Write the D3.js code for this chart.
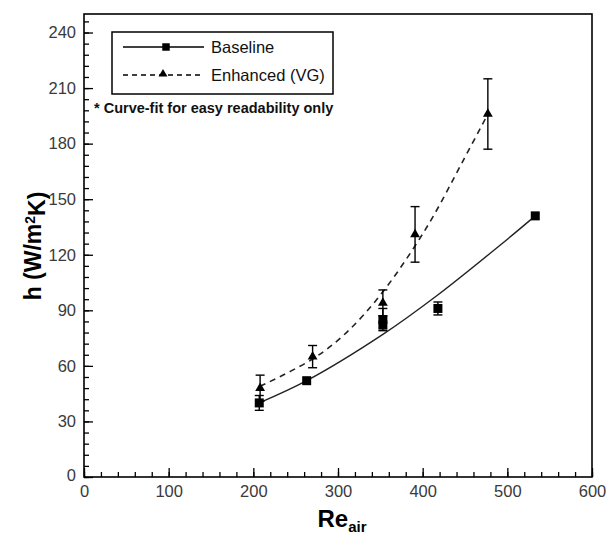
<!DOCTYPE html>
<meta charset="utf-8">
<style>
body { margin: 0; background: #fff; }
svg { font-family: "Liberation Sans", Arial, sans-serif; }
.axis path { display: none; }
.axis line { stroke: #000; stroke-width: 1.3; }
.axis text { font-size: 16.5px; fill: #3a3a3a; }
</style>
<body>
<script src="https://d3js.org/d3.v7.min.js"></script>
<script>
// measured points
var reBase  = [207, 263, 353, 353, 418, 533];
var hBase   = [40, 52, 85, 82, 91, 141];
var errBase = [4, 0, 6, 0, 3.5, 0];

var reEnh  = [208, 270, 353, 391, 477];
var hEnh   = [48, 65, 94, 131, 196];
var errEnh = [7, 6, 7, 15, 19];

// curve fits
var fitBaseRe = [207, 263, 353, 417, 491, 533];
var fitBaseH  = [40, 52, 77, 98, 125, 141];
var fitEnhRe  = [208, 271, 310, 353, 405, 448, 477];
var fitEnhH   = [49, 64, 78, 100, 135, 171, 196];

var xTicks = [0, 100, 200, 300, 400, 500, 600];
var yTicks = [0, 30, 60, 90, 120, 150, 180, 210, 240];

var margin = {top: 14, right: 20, bottom: 58, left: 84},
    width = 612 - margin.left - margin.right,
    height = 535 - margin.top - margin.bottom;

var svg = d3.select("body").append("svg")
    .attr("width", 612)
    .attr("height", 535);

var g = svg.append("g")
    .attr("transform", "translate(" + margin.left + "," + margin.top + ")");

var x = d3.scaleLinear().domain([0, 600]).range([0, width]);
var y = d3.scaleLinear().domain([0, 250]).range([height, 0]);

// minor ticks first
g.append("g")
    .attr("class", "axis")
    .attr("transform", "translate(0," + height + ")")
    .call(d3.axisBottom(x).tickValues(d3.range(0, 601, 20)).tickSize(-5).tickFormat(""));
g.append("g")
    .attr("class", "axis")
    .call(d3.axisLeft(y).tickValues(d3.range(0, 251, 6)).tickSize(-5).tickFormat(""));

var xAxisG = g.append("g")
    .attr("class", "axis")
    .attr("transform", "translate(0," + height + ")")
    .call(d3.axisBottom(x).tickValues(xTicks).tickSize(-9).tickPadding(8));
var yAxisG = g.append("g")
    .attr("class", "axis")
    .call(d3.axisLeft(y).tickValues(yTicks).tickSize(-9).tickPadding(8));

// y "0" label sits a little low in the original
yAxisG.selectAll("text").filter(function(d) { return d === 0; })
    .attr("dy", "0.2em");

// frame
g.append("rect")
    .attr("width", width)
    .attr("height", height)
    .attr("fill", "none")
    .attr("stroke", "#000")
    .attr("stroke-width", 1.6);

var line = d3.line()
    .x(function(d) { return x(d[0]); })
    .y(function(d) { return y(d[1]); })
    .curve(d3.curveCatmullRom.alpha(0.5));

g.append("path")
    .datum(d3.zip(fitBaseRe, fitBaseH))
    .attr("d", line)
    .attr("fill", "none")
    .attr("stroke", "#222")
    .attr("stroke-width", 1.4);

g.append("path")
    .datum(d3.zip(fitEnhRe, fitEnhH))
    .attr("d", line)
    .attr("fill", "none")
    .attr("stroke", "#222")
    .attr("stroke-width", 1.6)
    .attr("stroke-dasharray", "6,5");

// error bars
function errorBars(re, h, err) {
  var data = d3.zip(re, h, err).filter(function(d) { return d[2] > 0; });
  var eb = g.append("g").attr("stroke", "#000").attr("stroke-width", 1.4);
  eb.selectAll(".v").data(data).enter().append("line")
      .attr("x1", function(d) { return x(d[0]); })
      .attr("x2", function(d) { return x(d[0]); })
      .attr("y1", function(d) { return y(d[1] - d[2]); })
      .attr("y2", function(d) { return y(d[1] + d[2]); });
  [-1, 1].forEach(function(s) {
    eb.selectAll(".c" + s).data(data).enter().append("line")
        .attr("x1", function(d) { return x(d[0]) - 4.5; })
        .attr("x2", function(d) { return x(d[0]) + 4.5; })
        .attr("y1", function(d) { return y(d[1] + s * d[2]); })
        .attr("y2", function(d) { return y(d[1] + s * d[2]); });
  });
}
errorBars(reBase, hBase, errBase);
errorBars(reEnh, hEnh, errEnh);

var square = d3.symbol().type(d3.symbolSquare).size(81);
var tri = d3.symbol().type(d3.symbolTriangle).size(42);

g.selectAll(".sq").data(d3.zip(reBase, hBase)).enter().append("path")
    .attr("d", square)
    .attr("transform", function(d) { return "translate(" + x(d[0]) + "," + y(d[1]) + ")"; })
    .attr("fill", "#000");

g.selectAll(".tri").data(d3.zip(reEnh, hEnh)).enter().append("path")
    .attr("d", tri)
    .attr("transform", function(d) { return "translate(" + x(d[0]) + "," + y(d[1]) + ")"; })
    .attr("fill", "#000");

// legend
var legend = svg.append("g");
legend.append("rect")
    .attr("x", 112).attr("y", 32)
    .attr("width", 221).attr("height", 62)
    .attr("fill", "#fff")
    .attr("stroke", "#000")
    .attr("stroke-width", 1.5);

legend.append("line")
    .attr("x1", 123).attr("x2", 204).attr("y1", 47).attr("y2", 47)
    .attr("stroke", "#000").attr("stroke-width", 1.4);
legend.append("path")
    .attr("d", d3.symbol().type(d3.symbolSquare).size(56))
    .attr("transform", "translate(166,47)");
legend.append("text")
    .attr("x", 211).attr("y", 53)
    .style("font-size", "16.5px")
    .style("fill", "#111")
    .text("Baseline");

legend.append("line")
    .attr("x1", 123).attr("x2", 204).attr("y1", 75).attr("y2", 75)
    .attr("stroke", "#000").attr("stroke-width", 1.4)
    .attr("stroke-dasharray", "5,4");
legend.append("path")
    .attr("d", d3.symbol().type(d3.symbolTriangle).size(34))
    .attr("transform", "translate(163,74)");
legend.append("text")
    .attr("x", 211).attr("y", 81)
    .style("font-size", "16.5px")
    .style("fill", "#111")
    .text("Enhanced (VG)");

svg.append("text")
    .attr("x", 94).attr("y", 113)
    .style("font-size", "14.5px")
    .style("font-weight", "bold")
    .style("fill", "#111")
    .text("* Curve-fit for easy readability only");

// axis titles
var yl = svg.append("text")
    .attr("transform", "translate(41,246) rotate(-90)")
    .attr("text-anchor", "middle")
    .style("font-size", "23px")
    .style("font-weight", "bold");
yl.append("tspan").text("h (W/m");
yl.append("tspan").attr("dy", "-0.45em").style("font-size", "14px").text("2");
yl.append("tspan").attr("dy", "0.45em").text("K)");

var xl = svg.append("text")
    .attr("x", 342).attr("y", 527)
    .attr("text-anchor", "middle")
    .style("font-size", "24px")
    .style("font-weight", "bold");
xl.append("tspan").text("Re");
xl.append("tspan").attr("dy", "0.35em").style("font-size", "15px").text("air");
</script>
</body>
